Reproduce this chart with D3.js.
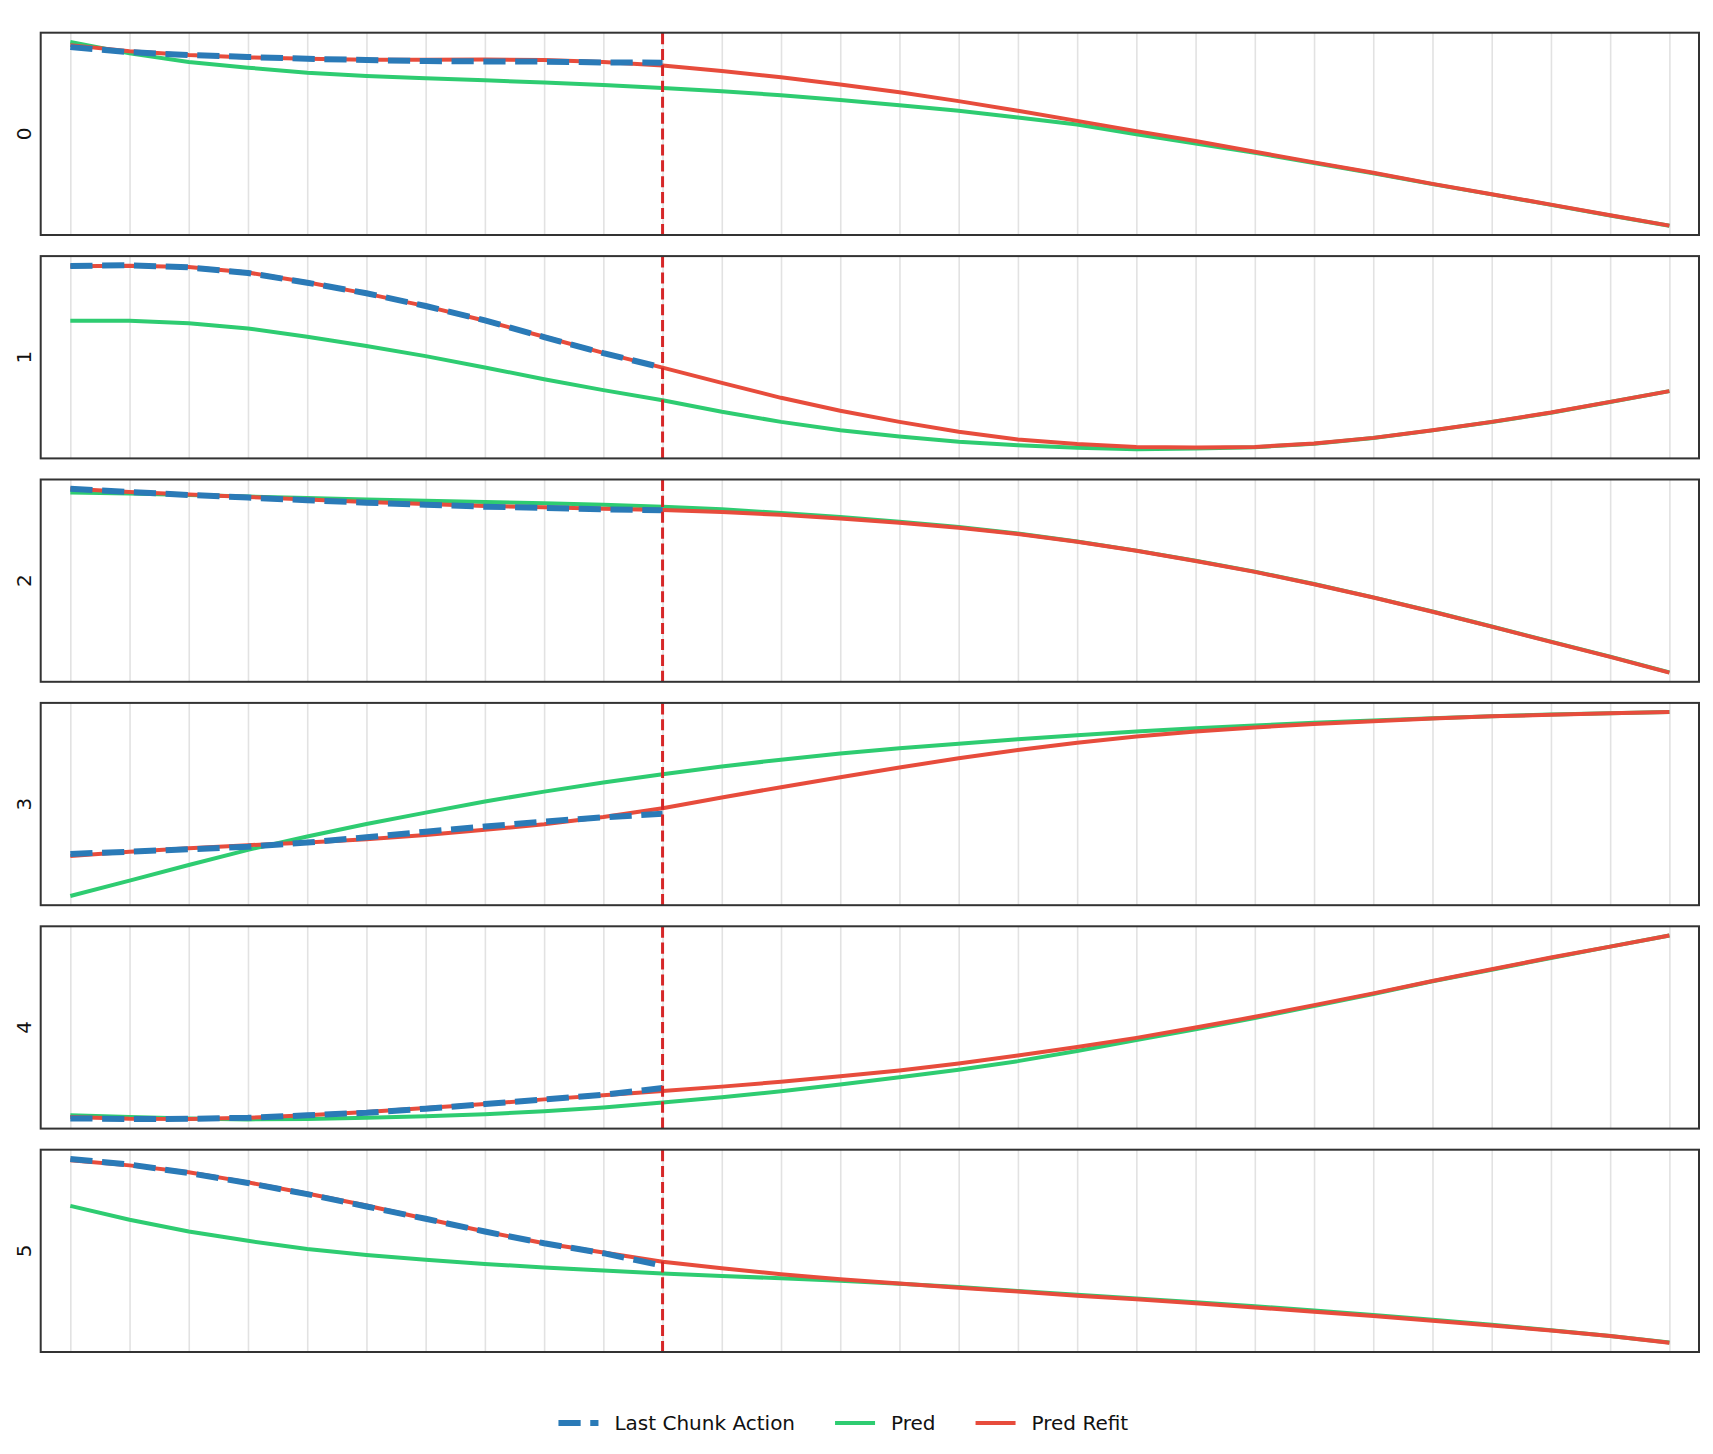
<!DOCTYPE html>
<html lang="en">
<head>
<meta charset="UTF-8">
<title>Last Chunk Action vs Pred vs Pred Refit</title>
<script src="https://d3js.org/d3.v7.min.js"></script>
<style>
    body { margin: 0; background: #fff; }
    svg { display: block; font-family: "DejaVu Sans", sans-serif; }
</style>
</head>
<body>
<script>
// Data (arbitrary units per panel)
const steps = [0, 1, 2, 3, 4, 5, 6, 7, 8, 9, 10, 11, 12, 13, 14, 15, 16, 17, 18, 19, 20, 21, 22, 23, 24, 25, 26, 27];
const dimLabels = ["0", "1", "2", "3", "4", "5"];
const chunkEnd = 10;
const seriesNames = ["Last Chunk Action", "Pred", "Pred Refit"];

const last0 = [93.4, 90.9, 89.5, 88.5, 87.6, 87.0, 86.5, 86.3, 86.2, 85.8, 85.7];
const pred0 = [96.0, 90.3, 86.0, 83.2, 80.7, 79.1, 77.9, 76.9, 75.8, 74.6, 73.1, 71.5, 69.5, 67.1, 64.6, 61.8, 58.5, 55.0, 50.2, 45.6, 40.9, 35.9, 30.8, 25.4, 20.3, 15.1, 9.8, 4.7];
const refit0 = [94.4, 91.4, 89.5, 88.3, 87.6, 87.1, 87.1, 87.3, 87.0, 86.0, 84.3, 81.5, 78.4, 74.8, 71.0, 66.6, 61.8, 56.8, 51.7, 46.8, 41.5, 36.2, 31.0, 25.5, 20.4, 15.2, 9.9, 4.8];

const last1 = [94.9, 95.2, 94.2, 91.4, 86.6, 81.4, 75.1, 68.0, 59.7, 51.8, 44.6];
const pred1 = [67.8, 67.8, 66.5, 64.0, 59.9, 55.3, 50.3, 44.7, 38.9, 33.5, 28.5, 22.8, 17.8, 13.7, 10.6, 8.0, 6.3, 5.0, 4.3, 4.6, 5.3, 7.0, 9.8, 13.6, 17.7, 22.3, 27.6, 33.0];
const refit1 = [94.7, 95.0, 94.4, 91.6, 86.8, 81.2, 75.0, 67.8, 59.9, 51.9, 44.6, 37.1, 29.7, 23.3, 17.8, 12.9, 9.1, 6.9, 5.4, 5.1, 5.4, 7.1, 9.9, 13.7, 17.8, 22.4, 27.7, 33.0];

const last2 = [95.5, 93.9, 92.4, 91.1, 89.8, 88.6, 87.6, 86.6, 86.0, 85.3, 84.8];
const pred2 = [93.6, 93.1, 92.4, 91.6, 90.9, 90.2, 89.6, 88.9, 88.3, 87.6, 86.6, 85.3, 83.5, 81.5, 79.2, 76.6, 73.3, 69.4, 64.9, 59.9, 54.5, 48.4, 41.8, 34.8, 27.4, 19.9, 12.5, 4.7];
const refit2 = [95.5, 93.9, 92.6, 91.4, 90.1, 88.9, 87.9, 86.9, 86.3, 85.6, 85.0, 84.0, 82.6, 80.8, 78.7, 76.2, 73.1, 69.3, 64.8, 59.8, 54.4, 48.3, 41.7, 34.7, 27.3, 19.8, 12.4, 4.6];

const last3 = [25.1, 26.2, 27.4, 28.7, 30.7, 33.3, 36.1, 38.6, 41.1, 43.2, 44.9];
const pred3 = [4.3, 11.9, 19.6, 27.1, 33.7, 39.9, 45.5, 51.0, 55.9, 60.4, 64.5, 68.3, 71.7, 74.7, 77.3, 79.6, 81.8, 83.8, 85.6, 87.2, 88.6, 89.9, 91.1, 92.2, 93.2, 94.0, 94.6, 95.2];
const refit3 = [24.1, 26.2, 27.9, 29.4, 30.7, 32.3, 34.5, 37.0, 39.8, 43.4, 47.7, 53.0, 58.1, 63.0, 67.8, 72.4, 76.5, 80.1, 83.1, 85.6, 87.6, 89.3, 90.7, 92.0, 93.1, 93.9, 94.6, 95.2];

const last4 = [5.3, 5.0, 5.1, 5.6, 6.8, 8.1, 10.1, 12.4, 14.7, 17.0, 20.3];
const pred4 = [6.8, 6.0, 5.3, 4.8, 5.0, 5.6, 6.4, 7.4, 8.8, 10.7, 13.1, 15.7, 18.7, 22.1, 25.6, 29.3, 33.6, 38.6, 44.0, 49.4, 54.9, 60.8, 66.8, 73.1, 78.8, 84.6, 90.2, 95.7];
const refit4 = [6.0, 5.1, 5.0, 5.6, 6.8, 8.4, 10.4, 12.4, 14.7, 16.7, 18.8, 21.0, 23.4, 26.1, 29.0, 32.4, 36.4, 40.6, 45.1, 50.2, 55.5, 61.3, 67.1, 73.2, 79.0, 84.8, 90.2, 95.7];

const last5 = [95.4, 92.6, 88.4, 83.5, 78.0, 71.9, 65.8, 59.5, 53.7, 48.8, 42.6];
const pred5 = [72.2, 65.3, 59.5, 54.9, 50.9, 47.9, 45.5, 43.5, 41.7, 40.2, 38.8, 37.5, 36.4, 35.2, 33.7, 32.1, 30.1, 28.3, 26.4, 24.6, 22.6, 20.5, 18.2, 15.9, 13.4, 10.7, 7.9, 4.6];
const refit5 = [94.7, 92.2, 88.8, 83.8, 78.3, 72.4, 65.8, 59.5, 53.7, 49.1, 44.6, 41.3, 38.4, 35.9, 33.8, 31.7, 29.8, 27.8, 26.0, 24.0, 22.0, 19.8, 17.7, 15.4, 13.1, 10.6, 7.9, 4.5];

const lastAll = [last0, last1, last2, last3, last4, last5];
const predAll = [pred0, pred1, pred2, pred3, pred4, pred5];
const refitAll = [refit0, refit1, refit2, refit3, refit4, refit5];

// Layout
const width = 1713, height = 1454;
const plotLeft = 40.7, plotWidth = 1658.3;
const plotTop = 32.7, panelH = 202.3, panelStep = 223.4;

const colors = { last: "#2a7ab7", pred: "#2ecc71", refit: "#e74c3c", chunk: "#d62728" };

const svg = d3.select("body").append("svg")
    .attr("width", width)
    .attr("height", height);

const x = d3.scaleLinear()
    .domain([-0.5, steps.length - 0.5])
    .range([plotLeft, plotLeft + plotWidth]);

dimLabels.forEach((label, i) => {
    const top = plotTop + i * panelStep;
    const g = svg.append("g").attr("class", "panel");

    const all = lastAll[i].concat(predAll[i], refitAll[i]);
    const [lo, hi] = d3.extent(all);
    const pad = (hi - lo) * 0.05;
    const y = d3.scaleLinear()
        .domain([lo - pad, hi + pad])
        .range([top + panelH, top]);

    // vertical grid
    g.append("g")
        .attr("transform", `translate(0,${top + panelH})`)
        .call(d3.axisBottom(x).tickValues(steps).tickSize(-panelH).tickFormat(""))
        .call(a => a.select(".domain").remove())
        .call(a => a.selectAll(".tick line").attr("stroke", "#e2e2e2").attr("stroke-width", 1.6));

    const line = d3.line()
        .x((d, k) => x(steps[k]))
        .y(d => y(d));

    g.append("path")
        .datum(predAll[i])
        .attr("d", line)
        .attr("fill", "none")
        .attr("stroke", colors.pred)
        .attr("stroke-width", 4);

    g.append("path")
        .datum(refitAll[i])
        .attr("d", line)
        .attr("fill", "none")
        .attr("stroke", colors.refit)
        .attr("stroke-width", 4);

    g.append("path")
        .datum(lastAll[i])
        .attr("d", line)
        .attr("fill", "none")
        .attr("stroke", colors.last)
        .attr("stroke-width", 6)
        .attr("stroke-dasharray", "22.2,9.6");

    // chunk boundary
    g.append("line")
        .attr("x1", x(chunkEnd)).attr("x2", x(chunkEnd))
        .attr("y1", top + panelH).attr("y2", top)
        .attr("stroke", colors.chunk)
        .attr("stroke-width", 3)
        .attr("stroke-dasharray", "11.1,4.8");

    // frame
    g.append("rect")
        .attr("x", plotLeft).attr("y", top)
        .attr("width", plotWidth).attr("height", panelH)
        .attr("fill", "none")
        .attr("stroke", "#333")
        .attr("stroke-width", 2);

    // dimension label
    g.append("text")
        .attr("transform", `translate(24,${top + panelH / 2}) rotate(-90)`)
        .attr("text-anchor", "middle")
        .attr("dominant-baseline", "central")
        .style("font-size", "20px")
        .style("fill", "#111")
        .text(label);
});

// Legend
const legendY = 1423;
const handleLen = 40, textPad = 16, colGap = 40;
const legend = svg.append("g").attr("class", "legend");
const styles = [
    { color: colors.last, w: 6, dash: "22.2,9.6" },
    { color: colors.pred, w: 4, dash: null },
    { color: colors.refit, w: 4, dash: null }
];

const items = seriesNames.map((name, k) => {
    const item = legend.append("g");
    item.append("line")
        .attr("x1", 0).attr("x2", handleLen)
        .attr("y1", legendY).attr("y2", legendY)
        .attr("stroke", styles[k].color)
        .attr("stroke-width", styles[k].w)
        .attr("stroke-dasharray", styles[k].dash);
    const t = item.append("text")
        .attr("x", handleLen + textPad)
        .attr("y", legendY)
        .attr("dominant-baseline", "central")
        .style("font-size", "20px")
        .style("fill", "#111")
        .text(name);
    return { item, w: handleLen + textPad + t.node().getComputedTextLength() };
});

const total = d3.sum(items, d => d.w) + colGap * (items.length - 1);
let cx = 843.3 - total / 2;
items.forEach(d => {
    d.item.attr("transform", `translate(${cx},0)`);
    cx += d.w + colGap;
});
</script>
</body>
</html>
